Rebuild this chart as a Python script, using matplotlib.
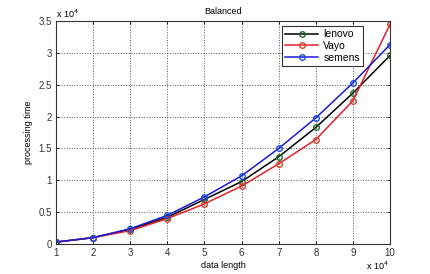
import matplotlib.pyplot as plt
import numpy as np

plt.rcParams["font.family"] = ["Liberation Sans", "DejaVu Sans"]

# data length (x 10^4) and processing time (x 10^4)
data_length = [1, 2, 3, 4, 5, 6, 7, 8, 9, 10]
lenovo = [0.03, 0.10, 0.23, 0.42, 0.70, 0.98, 1.37, 1.83, 2.37, 2.96]
vayo = [0.03, 0.10, 0.21, 0.40, 0.63, 0.91, 1.26, 1.64, 2.25, 3.45]
siemens = [0.03, 0.10, 0.24, 0.45, 0.74, 1.07, 1.50, 1.98, 2.53, 3.13]

fig = plt.figure(figsize=(4.31, 2.74), dpi=100)
ax = fig.add_axes([0.130, 0.1095, 0.775, 0.8135])

ax.plot(data_length, lenovo, "-o", color="black", mec="#1f6b2a", mfc="none",
        ms=4, lw=1.1, label="lenovo")
ax.plot(data_length, vayo, "-o", color="#e8202a", mec="#d2422a", mfc="none",
        ms=4, lw=1.1, label="Vayo")
ax.plot(data_length, siemens, "-o", color="#1a1ad8", mec="#1a4fd8", mfc="none",
        ms=4, lw=1.1, label="semens")

ax.set_xlim(1, 10)
ax.set_ylim(0, 3.5)
ax.set_xticks(np.arange(1, 11))
ax.set_yticks([0, 0.5, 1, 1.5, 2, 2.5, 3, 3.5])
ax.set_yticklabels(["0", "0.5", "1", "1.5", "2", "2.5", "3", "3.5"])
ax.grid(True, linestyle=":", color="#555555", lw=0.7)
ax.tick_params(labelsize=7, direction="in", length=2, width=0.6, pad=3,
               top=True, right=True, labelcolor="#333333")
for s in ax.spines.values():
    s.set_linewidth(0.8)
    s.set_color("#333333")

ax.set_title("Balanced", fontsize=6.5, pad=5)
ax.set_xlabel("data length", fontsize=6.5, labelpad=2)
ax.set_ylabel("processing time", fontsize=6.5, labelpad=4)

ax.text(0.0, 1.005, r"x 10$^4$", transform=ax.transAxes, fontsize=6.5,
        ha="left", va="bottom")
ax.text(0.995, -0.10, r"x 10$^4$", transform=ax.transAxes, fontsize=6.5,
        ha="right", va="center")

leg = ax.legend(loc="upper right", bbox_to_anchor=(0.935, 1.0), fontsize=7.5,
                fancybox=False, edgecolor="#333333", framealpha=1,
                handlelength=3.2, borderpad=0.3, labelspacing=0.15,
                handletextpad=0.5)
leg.get_frame().set_linewidth(0.8)

fig.savefig("out.png", dpi=100)
